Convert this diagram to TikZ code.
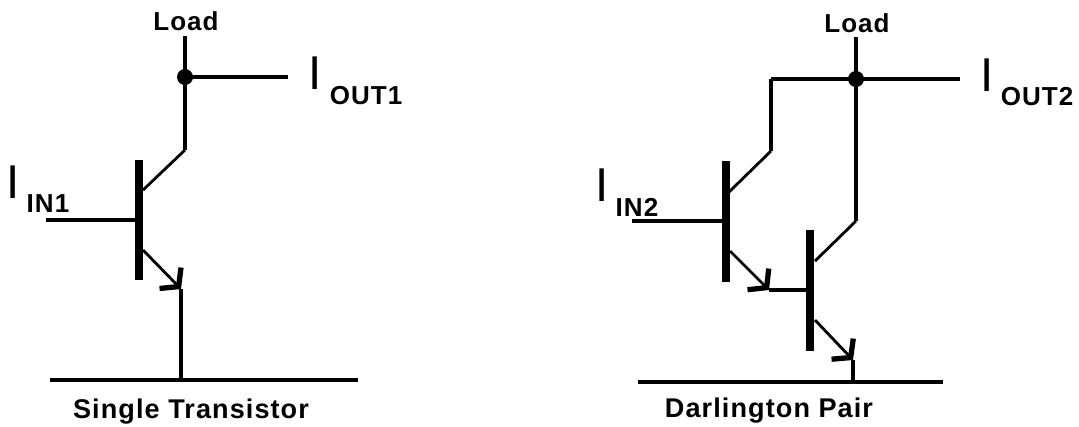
\documentclass[tikz,border=0pt]{standalone}
\usepackage{fontspec}
\setmainfont[LetterSpace=4]{Liberation Sans}
\usetikzlibrary{arrows.meta}
\tikzset{
  wire/.style={line width=1.4pt},
  lead/.style={line width=0.8pt},
  basebar/.style={line width=2.1pt},
  arrowlead/.style={line width=0.8pt,-{Straight Barb[length=1.2mm,width=3mm,line width=1.5pt]}},
  dot/.style={circle,fill=black,inner sep=0pt,minimum size=0.16cm},
  lbl/.style={font=\bfseries\fontsize{7.4}{9}\selectfont,inner sep=0pt},
  title/.style={font=\bfseries\fontsize{7.7}{9}\selectfont,inner sep=0pt},
  sub/.style={font=\fontsize{7.4}{9}\selectfont\bfseries,inner sep=0pt},
  cur/.style={font=\fontsize{13.5}{15}\selectfont,inner sep=0pt}
}
\begin{document}
\begin{tikzpicture}
                              \useasboundingbox (0,0) rectangle (10.79,-4.26);

                              % single transistor
                              \node[lbl] (L1) at (1.86,-0.21) {Load};
                              \coordinate (T1) at (1.85,-0.36);
                              \node[dot] (J1) at (1.85,-0.77) {};
                              \coordinate (O1) at (2.88,-0.77);
                              \node[cur] (I1) at (3.15,-0.73) {I};
                              \node[sub] (S1) at (3.66,-0.96) {OUT1};
                              \coordinate (C1) at (1.85,-1.50);
                              \coordinate (K1) at (1.43,-1.90);
                              \coordinate (BT1) at (1.39,-1.60);
                              \coordinate (BB1) at (1.39,-2.80);
                              \coordinate (BI1) at (1.36,-2.20);
                              \coordinate (IN1) at (0.46,-2.20);
                              \node[cur] (I2) at (0.13,-1.82) {I};
                              \node[sub] (S2) at (0.48,-2.04) {IN1};
                              \coordinate (E1) at (1.43,-2.50);
                              \coordinate (A1) at (1.81,-2.89);
                              \coordinate (G1) at (1.81,-3.80);
                              \coordinate (GL1) at (0.50,-3.80);
                              \coordinate (GR1) at (3.58,-3.80);
                              \node[title] (N1) at (1.91,-4.12) {Single Transistor};

                              \draw[wire] (T1) -- (J1.center);
                              \draw[wire] (J1.center) -- (O1);
                              \draw[wire] (J1.center) -- (C1);
                              \draw[lead] (C1) -- (K1);
                              \draw[basebar] (BT1) -- (BB1);
                              \draw[wire] (IN1) -- (BI1);
                              \draw[arrowlead] (E1) -- (A1);
                              \draw[wire] (A1) -- (G1);
                              \draw[wire] (GL1) -- (GR1);

                              % darlington pair
                              \node[lbl] (L2) at (8.57,-0.23) {Load};
                              \coordinate (T2) at (8.56,-0.37);
                              \node[dot] (J2) at (8.56,-0.79) {};
                              \coordinate (O2) at (9.60,-0.79);
                              \node[cur] (I3) at (9.87,-0.75) {I};
                              \node[sub] (S3) at (10.37,-0.97) {OUT2};
                              \coordinate (H2) at (7.71,-0.79);
                              \coordinate (C2) at (7.71,-1.51);
                              \coordinate (K2) at (7.29,-1.92);
                              \coordinate (BT2) at (7.26,-1.61);
                              \coordinate (BB2) at (7.26,-2.82);
                              \coordinate (BI2) at (7.23,-2.21);
                              \coordinate (IN2) at (6.32,-2.21);
                              \node[cur] (I4) at (6.02,-1.85) {I};
                              \node[sub] (S4) at (6.37,-2.07) {IN2};
                              \coordinate (E2) at (7.30,-2.51);
                              \coordinate (A2) at (7.69,-2.90);
                              \coordinate (BI3) at (8.07,-2.90);
                              \coordinate (BT3) at (8.10,-2.30);
                              \coordinate (BB3) at (8.10,-3.51);
                              \coordinate (C3) at (8.56,-2.21);
                              \coordinate (K3) at (8.15,-2.61);
                              \coordinate (E3) at (8.15,-3.20);
                              \coordinate (A3) at (8.53,-3.60);
                              \coordinate (G2) at (8.53,-3.82);
                              \coordinate (GL2) at (6.38,-3.82);
                              \coordinate (GR2) at (9.43,-3.82);
                              \node[title] (N2) at (7.69,-4.11) {Darlington Pair};

                              \draw[wire] (T2) -- (J2.center);
                              \draw[wire] (H2) -- (O2);
                              \draw[wire] (J2.center) -- (C3);
                              \draw[wire] (H2) -- (C2);
                              \draw[lead] (C2) -- (K2);
                              \draw[basebar] (BT2) -- (BB2);
                              \draw[wire] (IN2) -- (BI2);
                              \draw[arrowlead] (E2) -- (A2);
                              \draw[wire] (A2) -- (BI3);
                              \draw[basebar] (BT3) -- (BB3);
                              \draw[lead] (C3) -- (K3);
                              \draw[arrowlead] (E3) -- (A3);
                              \draw[wire] (A3) -- (G2);
                              \draw[wire] (GL2) -- (GR2);
                      \end{tikzpicture}
\end{document}
